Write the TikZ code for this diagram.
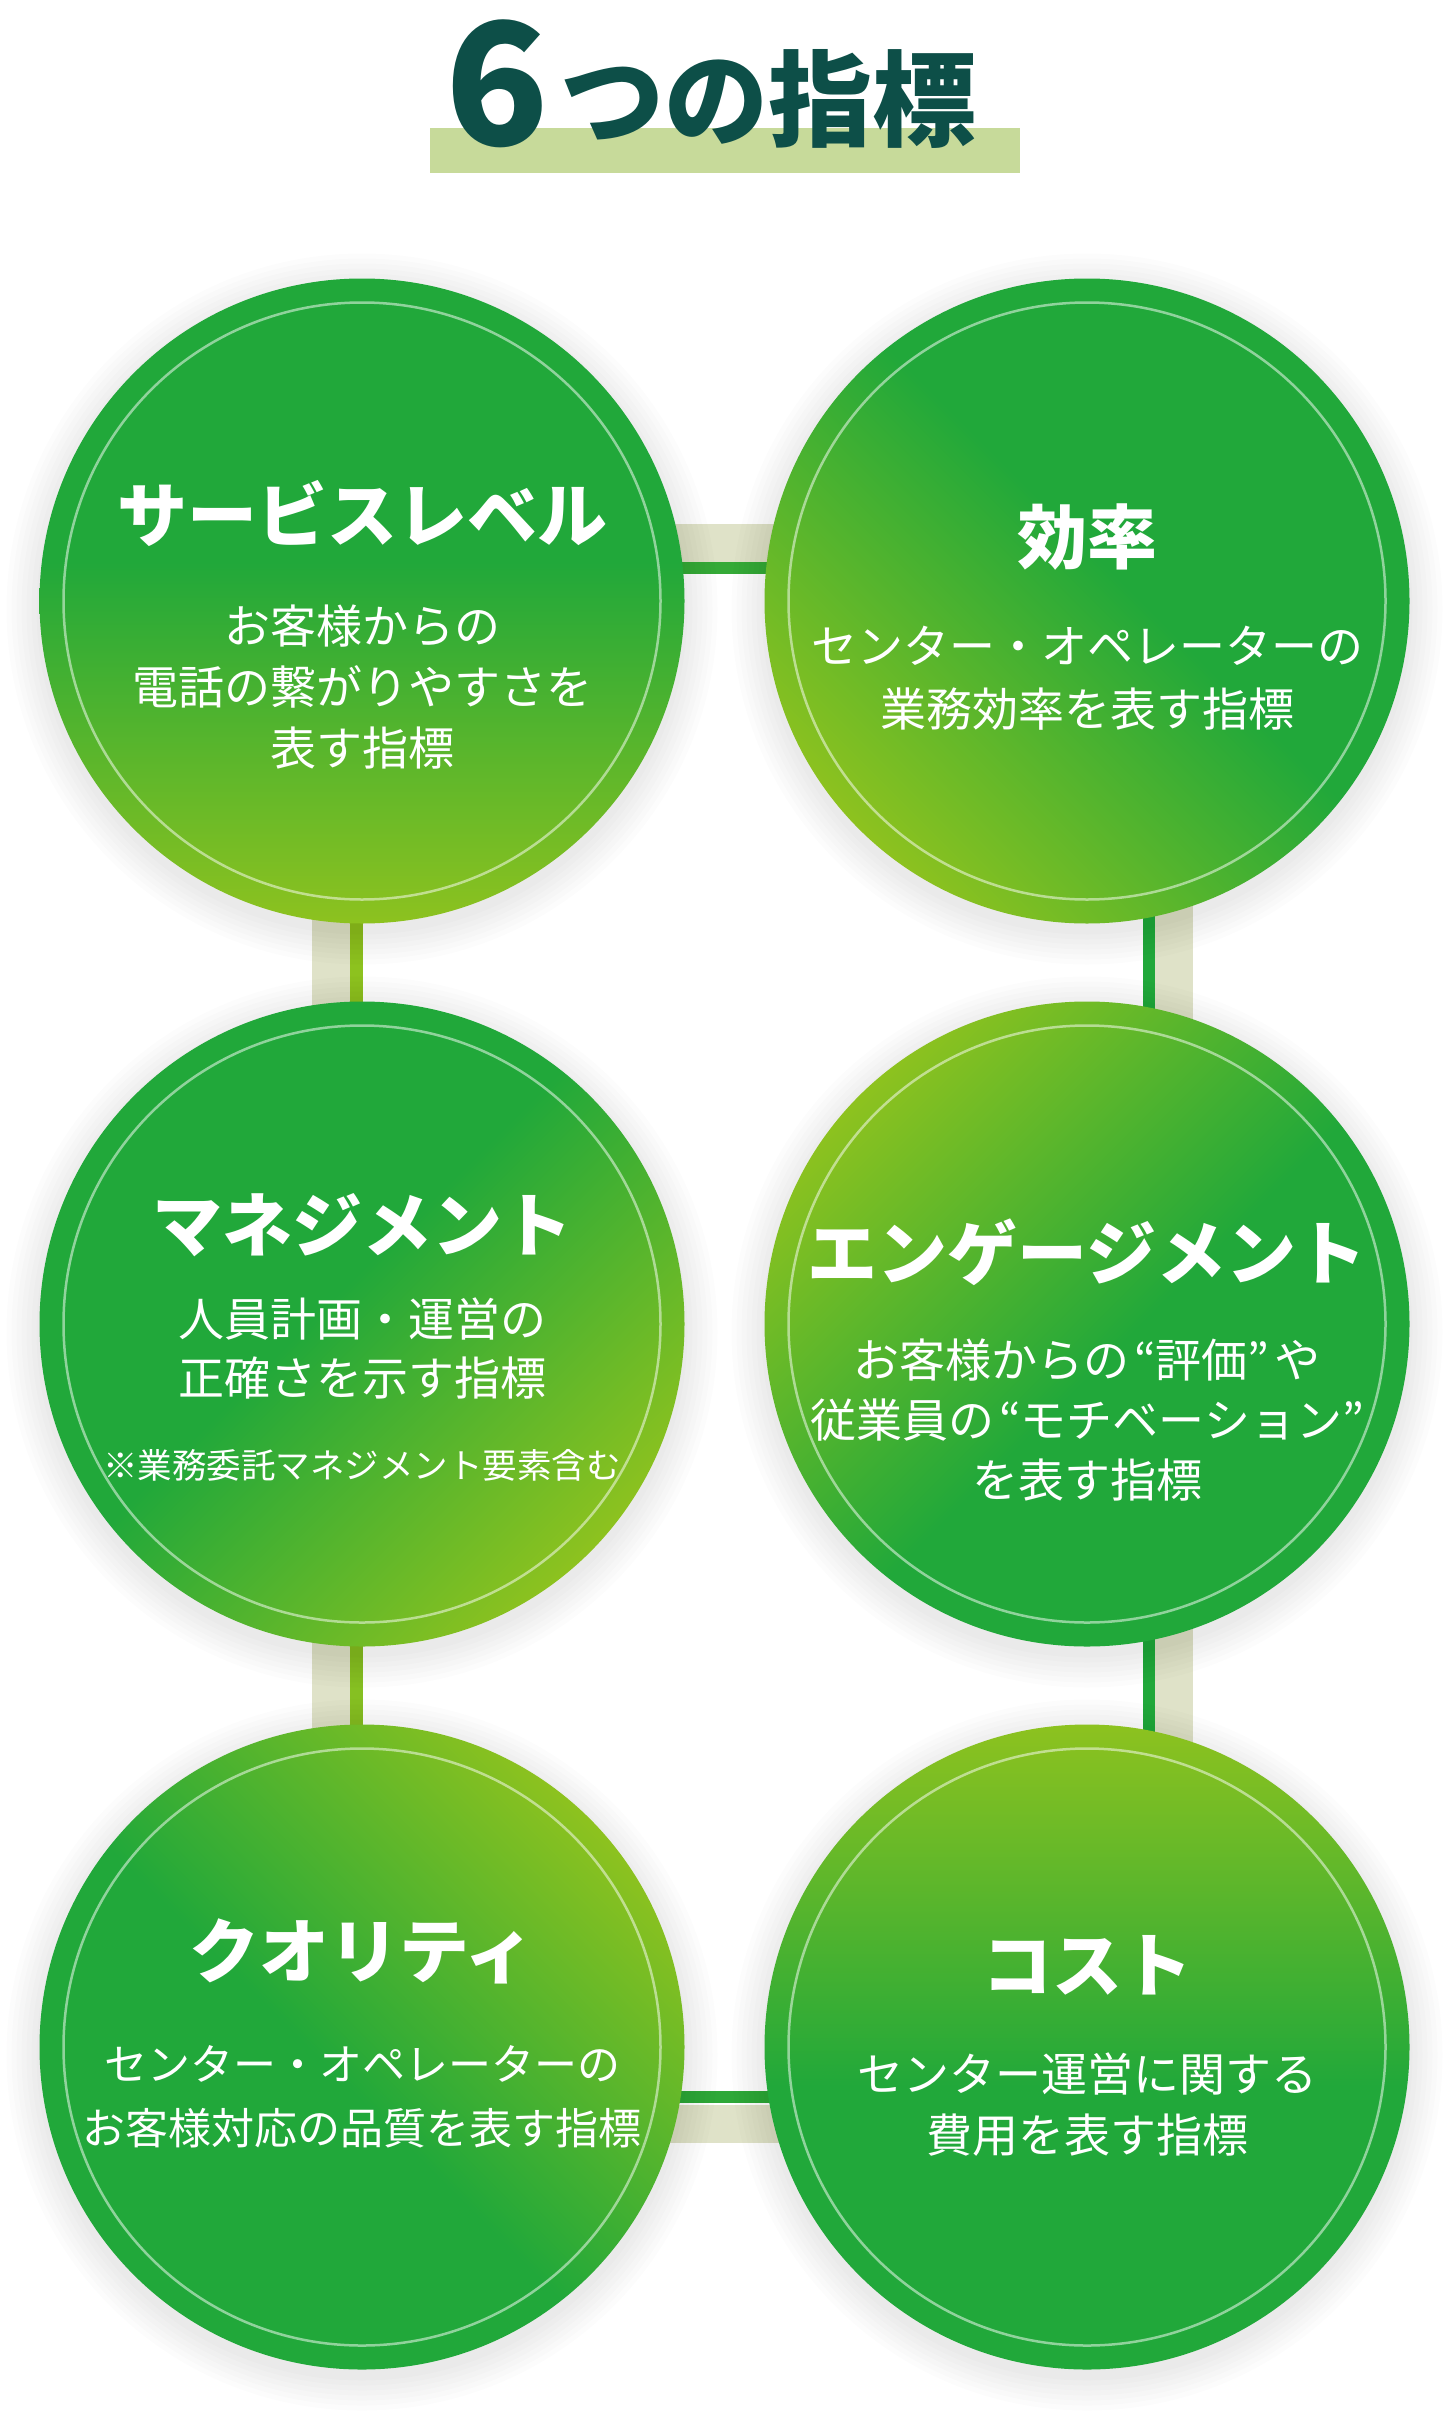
\documentclass[tikz,border=0pt]{standalone}
\usepackage{fontspec}
\setmainfont{Noto Sans CJK JP}
\usetikzlibrary{positioning,backgrounds}
\definecolor{LeafGreen}{HTML}{21A83A}
\definecolor{LeafYellow}{HTML}{8DC21F}
\definecolor{Ink}{HTML}{0D4F48}
\definecolor{Band}{HTML}{C7DA9A}
\definecolor{Rail}{HTML}{DFE2C8}
\pgfdeclareverticalshading{leafaxis}{100bp}{color(0bp)=(LeafYellow); color(25bp)=(LeafYellow); color(53bp)=(LeafGreen); color(100bp)=(LeafGreen)}

\begin{document}
\begin{tikzpicture}[x=1pt,y=-1pt,
    disc/.style={circle,minimum size=645pt,inner sep=0pt,shade,shading=leafaxis},
    ring/.style={white,opacity=0.5,line width=2.5pt},
    head/.style={text=white,inner sep=0pt,font=\fontsize{70}{70}\selectfont\bfseries},
    body/.style={text=white,inner sep=0pt,align=center,font=\fontsize{46}{61}\selectfont},
    rail/.style={Rail,line width=38pt},
    wire/.style={line width=12.5pt}]
  \useasboundingbox (0,0) rectangle (1446,2416);

  \fill[Band] (430,128) rectangle (1020,173);
  \node[anchor=base,inner sep=0pt,text=Ink,font=\fontsize{170}{170}\selectfont\bfseries] (six) at (497,146) {6};
  \node[anchor=base,inner sep=0pt,text=Ink,font=\fontsize{104}{104}\selectfont\bfseries] (title) at (768,139) {つの指標};

  \node[disc,shading angle=0] (svc) at (362,601) {};
  \node[disc,shading angle=-45] (eff) at (1087,601) {};
  \node[disc,shading angle=45] (mgmt) at (362,1324) {};
  \node[disc,shading angle=-135] (eng) at (1087,1324) {};
  \node[disc,shading angle=135] (qual) at (362,2047) {};
  \node[disc,shading angle=180] (cost) at (1087,2047) {};

  \begin{scope}[on background layer]
    \fill[white] (0,0) rectangle (1446,2416);
    \draw[rail] ([yshift=58pt]svc.center) -- ([yshift=58pt]eff.center);
    \draw[rail] ([xshift=-31pt]svc.center) -- ([xshift=-31pt]qual.center);
    \draw[rail] ([xshift=87pt]eff.center) -- ([xshift=87pt]cost.center);
    \draw[rail] ([yshift=-76.5pt]qual.center) -- ([yshift=-76.5pt]cost.center);
    \draw[wire,color={rgb,255:red,53;green,170;blue,55}] ([yshift=33pt]svc.center) -- ([yshift=33pt]eff.center);
    \draw[wire,color=LeafYellow] ([xshift=-5.5pt]svc.center) -- ([xshift=-5.5pt]mgmt.center);
    \draw[wire,color={rgb,255:red,134;green,192;blue,34}] ([xshift=-5.5pt]mgmt.center) -- ([xshift=-5.5pt]qual.center);
    \draw[wire,color=LeafGreen] ([xshift=62pt]eff.center) -- ([xshift=62pt]cost.center);
    \draw[wire,color={rgb,255:red,46;green,168;blue,56}] ([yshift=-50pt]qual.center) -- ([yshift=-50pt]cost.center);
    \foreach \n in {svc,eff,mgmt,eng,qual,cost}
      \foreach \s in {3,8,...,33}
        \fill[black,opacity=0.012] ([yshift=-8pt]\n.center) circle[radius=322.5pt+\s pt];
  \end{scope}

  \foreach \n in {svc,eff,mgmt,eng,qual,cost}
    \draw[ring] (\n.center) circle[radius=298.5pt];

  \node[head] (svc-h) at (362,513) {サービスレベル};
  \node[body] (svc-t) at (362,687) {お客様からの\\電話の繋がりやすさを\\表す指標};

  \node[head] (eff-h) at (1087,537) {効率};
  \node[body,font=\fontsize{46}{63}\selectfont] (eff-t) at (1087,678) {センター・オペレーターの\\業務効率を表す指標};

  \node[head] (mgmt-h) at (362,1225) {マネジメント};
  \node[body,font=\fontsize{46}{59}\selectfont] (mgmt-t) at (362,1348) {人員計画・運営の\\正確さを示す指標};
  \node[body,font=\fontsize{34.5}{40}\selectfont] (mgmt-n) at (362,1465) {※業務委託マネジメント要素含む};

  \node[head] (eng-h) at (1087,1252) {エンゲージメント};
  \node[body,font=\fontsize{46}{60}\selectfont] (eng-t) at (1087,1420) {お客様からの\hspace{5pt}“評価”\hspace{5pt}や\\従業員の\hspace{5pt}“モチベーション”\\を表す指標};

  \node[head] (qual-h) at (362,1951) {クオリティ};
  \node[body,font=\fontsize{43}{64}\selectfont] (qual-t) at (362,2097) {センター・オペレーターの\\お客様対応の品質を表す指標};

  \node[head] (cost-h) at (1087,1965) {コスト};
  \node[body,font=\fontsize{46}{61}\selectfont] (cost-t) at (1087,2104.5) {センター運営に関する\\費用を表す指標};
\end{tikzpicture}
\end{document}
